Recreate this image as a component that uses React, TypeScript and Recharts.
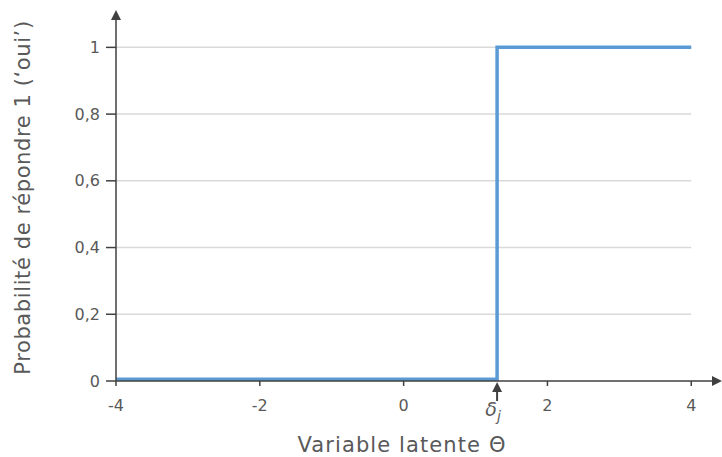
import { Label, Line, LineChart, ReferenceDot, ReferenceLine, XAxis, YAxis } from "recharts";

// step curve: probability of answering 1 vs latent variable
const theta = [-4, 1.3, 1.3, 4];
const prob = [0.005, 0.005, 1, 1];
const xTicks = [-4, -2, 0, 1.3, 2, 4];
const yTicks = [0, 0.2, 0.4, 0.6, 0.8, 1];
const gridLevels = [0.2, 0.4, 0.6, 0.8, 1];
const delta = 1.3;

const data = theta.map((t, i) => ({ theta: t, p: prob[i] }));

const FONT = "'DejaVu Sans', sans-serif";
const TEXT = "#595959";
const AXIS = "#404040";
const BLUE = "#5B9BD5";

function XTick(props: any) {
  const { x, y, payload } = props;
  if (payload.value === delta) {
    return (
      <g>
        <polygon points={`${x},${y + 1} ${x - 5},${y + 11} ${x + 5},${y + 11}`} fill={AXIS} />
        <line x1={x} y1={y + 10} x2={x} y2={y + 20} stroke={AXIS} strokeWidth={2} />
        <text x={x - 4} y={y + 35} textAnchor="middle" fill={TEXT} fontFamily={FONT} fontSize={19} fontStyle="italic">
          δ
          <tspan dx={0} dy={5} fontSize={14}>j</tspan>
        </text>
      </g>
    );
  }
  return (
    <g>
      <line x1={x} y1={y} x2={x} y2={y + 5} stroke={AXIS} strokeWidth={1.5} />
      <text x={x} y={y + 30} textAnchor="middle" fill={TEXT} fontFamily={FONT} fontSize={16}>
        {payload.value}
      </text>
    </g>
  );
}

const arrowRight = (p: any) => (
  <polygon points={`${p.cx + 2},${p.cy} ${p.cx - 8},${p.cy - 5} ${p.cx - 8},${p.cy + 5}`} fill={AXIS} />
);
const arrowUp = (p: any) => (
  <polygon points={`${p.cx},${p.cy - 4} ${p.cx - 5},${p.cy + 6} ${p.cx + 5},${p.cy + 6}`} fill={AXIS} />
);

export default function App() {
  return (
    <div style={{ position: "absolute", left: 0, top: 0, background: "#fff" }}>
      <LineChart width={722} height={457} data={data} margin={{ top: 14, right: 2, bottom: 0, left: 0 }}>
        {gridLevels.map((g) => (
          <ReferenceLine
            key={g}
            segment={[
              { x: -4, y: g },
              { x: 4, y: g },
            ]}
            stroke="#d9d9d9"
            strokeWidth={1.5}
          />
        ))}
        <XAxis
          dataKey="theta"
          type="number"
          domain={[-4, 4.4]}
          ticks={xTicks}
          interval={0}
          allowDataOverflow
          height={76}
          tickSize={0}
          tickMargin={0}
          tickLine={false}
          tick={<XTick />}
          axisLine={{ stroke: AXIS, strokeWidth: 1.5 }}
        >
          <Label
            value="Variable latente Θ"
            position="insideBottom"
            offset={5}
            dx={-16}
            style={{ fontFamily: FONT, fontSize: 21, fill: TEXT, letterSpacing: 1.1 }}
          />
        </XAxis>
        <YAxis
          type="number"
          domain={[0, 1.1]}
          ticks={yTicks}
          interval={0}
          allowDataOverflow
          width={116}
          tickSize={10}
          tickMargin={6}
          tickFormatter={(v) => String(v).replace(".", ",")}
          tick={{ fill: TEXT, fontFamily: FONT, fontSize: 16 }}
          tickLine={{ stroke: AXIS, strokeWidth: 1.5 }}
          axisLine={{ stroke: AXIS, strokeWidth: 1.5 }}
        >
          <Label
            value="Probabilité de répondre 1 (‘oui’)"
            angle={-90}
            position="insideLeft"
            offset={23}
            style={{ fontFamily: FONT, fontSize: 21, fill: TEXT, textAnchor: "middle", letterSpacing: 0.6 }}
          />
        </YAxis>
        <Line
          dataKey="p"
          type="linear"
          stroke={BLUE}
          strokeWidth={3.5}
          dot={false}
          isAnimationActive={false}
        />
        <ReferenceDot x={4.4} y={0} r={0} ifOverflow="visible" shape={arrowRight} />
        <ReferenceDot x={-4} y={1.1} r={0} ifOverflow="visible" shape={arrowUp} />
      </LineChart>
    </div>
  );
}
